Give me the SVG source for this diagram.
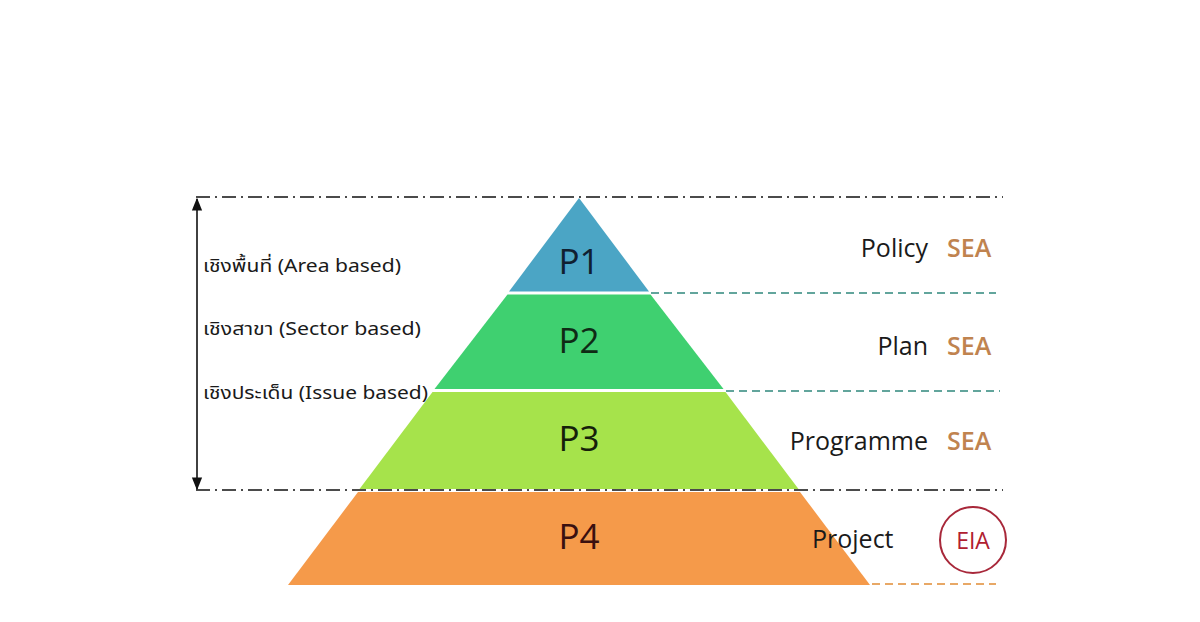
<svg xmlns="http://www.w3.org/2000/svg" width="1200" height="622" viewBox="0 0 1200 622">
<defs>
<style>
.lab{font-family:"Noto Sans Thai","Leelawadee UI","Tahoma","Noto Sans","DejaVu Sans",sans-serif;font-size:18px;fill:#1a1a1a}
.p{font-family:"Open Sans","Noto Sans",sans-serif;font-size:35px;text-anchor:middle}
.r{font-family:"Open Sans","Noto Sans",sans-serif;font-size:25px;fill:#1a1a1a}
.sea{font-family:"Open Sans","Noto Sans",sans-serif;font-size:25px;fill:#c0834f;font-weight:600}
.dd{stroke:#111;stroke-width:1.6;fill:none;stroke-dasharray:14 5 2 5}
.td{stroke:#62a59c;stroke-width:2.2;fill:none;stroke-dasharray:8 5}
.od{stroke:#e8a866;stroke-width:2;fill:none;stroke-dasharray:8 5}
</style>
<marker id="ah" viewBox="0 0 10 10" refX="9" refY="5" markerWidth="8" markerHeight="8" orient="auto-start-reverse">
<path d="M0,1 L10,5 L0,9 z" fill="#111"/>
</marker>
</defs>
<rect width="1200" height="622" fill="#fff"/>
<g id="connectors">
<line class="dd" x1="196" y1="197" x2="1003" y2="197"/>
<line class="dd" x1="196" y1="490" x2="1003" y2="490"/>
<line x1="197" y1="199" x2="197" y2="489" stroke="#111" stroke-width="1.6" marker-start="url(#ah)" marker-end="url(#ah)"/>
<line class="td" x1="651" y1="293" x2="996" y2="293"/>
<line class="td" x1="726" y1="391" x2="1000" y2="391"/>
<line class="od" x1="872" y1="584" x2="996" y2="584"/>
</g>
<g id="p1">
<polygon points="579,198 649,291.5 509,291.5" fill="#4ba5c5"/>
<text class="p" x="579" y="274" fill="#102030">P1</text>
</g>
<g id="p2">
<polygon points="507.5,294.5 650.5,294.5 723.5,389 434.5,389" fill="#3fd070"/>
<text class="p" x="579" y="353" fill="#0f2a15">P2</text>
</g>
<g id="p3">
<polygon points="432.5,392 725.5,392 798.5,489 359.5,489" fill="#a6e34b"/>
<text class="p" x="579" y="451" fill="#15200a">P3</text>
</g>
<g id="p4">
<polygon points="358,492 800,492 870,585 288,585" fill="#f59a4a"/>
<text class="p" x="579" y="549" fill="#3a1010">P4</text>
</g>
<g id="left-labels">
<text class="lab" x="203" y="272" textLength="198" lengthAdjust="spacingAndGlyphs">เชิงพื้นที่ (Area based)</text>
<text class="lab" x="203" y="335" textLength="218" lengthAdjust="spacingAndGlyphs">เชิงสาขา (Sector based)</text>
<text class="lab" x="203" y="399" textLength="225" lengthAdjust="spacingAndGlyphs">เชิงประเด็น (Issue based)</text>
</g>
<g id="policy">
<text class="r" x="928" y="257" text-anchor="end">Policy</text>
<text class="sea" x="947" y="257">SEA</text>
</g>
<g id="plan">
<text class="r" x="928" y="355" text-anchor="end">Plan</text>
<text class="sea" x="947" y="355">SEA</text>
</g>
<g id="programme">
<text class="r" x="928" y="450" text-anchor="end">Programme</text>
<text class="sea" x="947" y="450">SEA</text>
</g>
<g id="project">
<text class="r" x="812" y="548" fill="#2a1414">Project</text>
<circle cx="973" cy="540" r="33" fill="none" stroke="#a8283a" stroke-width="2"/>
<text x="973" y="549" text-anchor="middle" font-family="Open Sans, Noto Sans, sans-serif" font-size="23" fill="#b02030">EIA</text>
</g>
</svg>
